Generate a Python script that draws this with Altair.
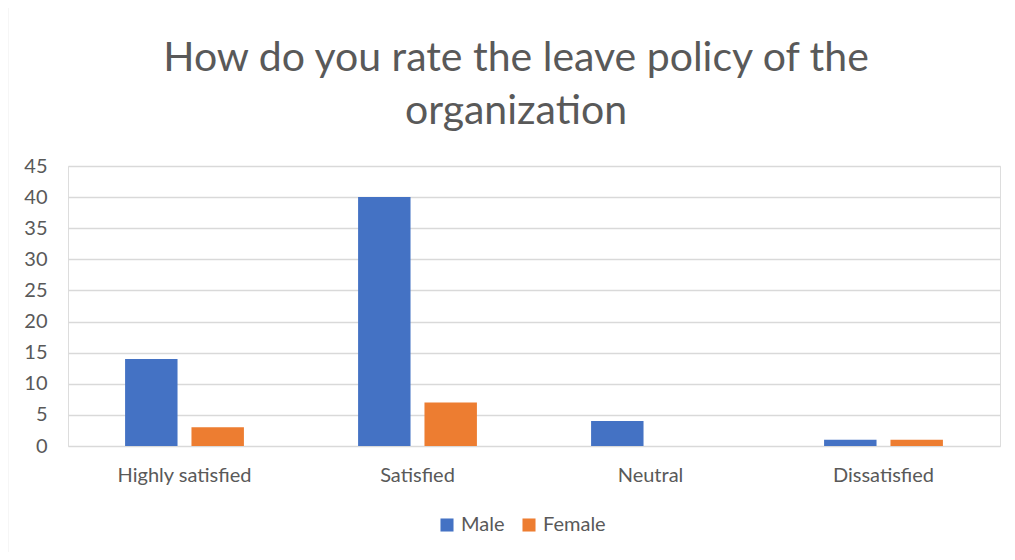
import altair as alt
import pandas as pd

categories = ["Highly satisfied", "Satisfied", "Neutral", "Dissatisfied"]
series = ["Male", "Female"]
male = [14, 40, 4, 1]
female = [3, 7, 0, 1]
colors = ["#4472C4", "#ED7D31"]
title_lines = ["How do you rate the leave policy of the", "organization"]

rows = []
for c, m, f in zip(categories, male, female):
    rows.append({"category": c, "gender": "Male", "value": m})
    rows.append({"category": c, "gender": "Female", "value": f})
df = pd.DataFrame(rows)

W, H = 932, 280
FONT = "Lato"
GRAY = "#595959"

bars = alt.Chart(df).mark_bar().encode(
    x=alt.X("category:N", sort=categories, title=None,
            scale=alt.Scale(paddingInner=0.49, paddingOuter=0.245),
            axis=alt.Axis(labelAngle=0, labelPadding=19, ticks=False, domain=False,
                          labelFontSize=20, labelColor=GRAY, labelFont=FONT)),
    xOffset=alt.XOffset("gender:N", sort=series, scale=alt.Scale(paddingInner=0.21)),
    y=alt.Y("value:Q", title=None,
            scale=alt.Scale(domain=[0, 45]),
            axis=alt.Axis(values=list(range(0, 50, 5)), ticks=False, domain=False,
                          labelPadding=21, labelFontSize=20, labelColor=GRAY, labelFont=FONT,
                          gridColor="#d9d9d9", gridWidth=1.3)),
    color=alt.Color("gender:N", sort=series,
                    scale=alt.Scale(domain=series, range=colors),
                    legend=alt.Legend(title=None, orient="none", direction="horizontal",
                                      legendX=369, legendY=349, symbolType="square",
                                      symbolSize=170, symbolStrokeWidth=0, labelFontSize=20,
                                      labelColor=GRAY, labelFont=FONT, columnPadding=14,
                                      labelOffset=4)),
)

border = alt.Chart(pd.DataFrame({"a": [0]})).mark_rect(
    fill=None, stroke="#d9d9d9", strokeWidth=1.5, clip=False
).encode(
    x=alt.value(-60.5), x2=alt.value(960), y=alt.value(-159.5), y2=alt.value(420)
)

chart = alt.layer(border, bars).properties(
    width=W, height=H,
    title=alt.TitleParams(text=title_lines, fontSize=41, font=FONT, fontWeight="normal",
                          color=GRAY, anchor="middle", frame="group", lineHeight=53,
                          offset=-127, dx=-18),
    autosize=alt.AutoSizeParams(type="none"),
    padding={"left": 60, "top": 158, "right": 7, "bottom": 106},
).configure_view(stroke=None).configure(background="white")

chart.save("out.html", embed_options={"renderer": "svg", "actions": False})
